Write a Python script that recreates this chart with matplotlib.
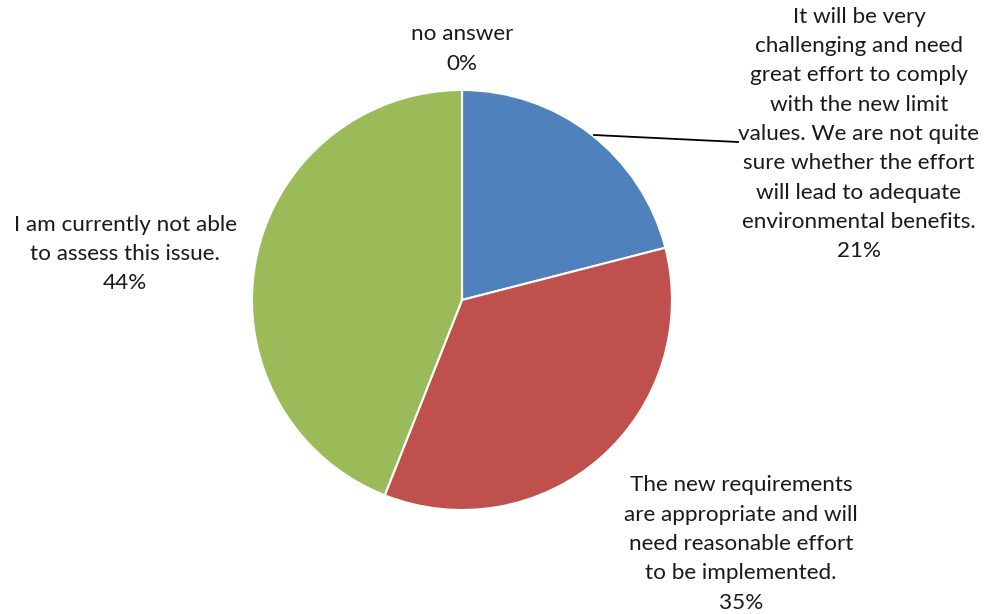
import matplotlib
matplotlib.use('Agg')
import matplotlib.pyplot as plt

# data
labels = ['It will be very\nchallenging and need\ngreat effort to comply\nwith the new limit\nvalues. We are not quite\nsure whether the effort\nwill lead to adequate\nenvironmental benefits.',
          'The new requirements\nare appropriate and will\nneed reasonable effort\nto be implemented.',
          'I am currently not able\nto assess this issue.',
          'no answer']
shares = [21, 35, 44, 0]
colors = ['#4F81BD', '#C0504D', '#9BBB59', '#8064A2']

# label centres in pixel coords (x, y from top)
label_pos = [(859, 134), (741, 544), (125, 254), (462, 49)]

plt.rcParams['font.family'] = ['Lato', 'DejaVu Sans']

fig = plt.figure(figsize=(9.84, 6.14), dpi=100)
ax = fig.add_axes([0, 0, 1, 1])

ax.pie(shares, colors=colors, startangle=90, counterclock=False,
       center=(462, 614 - 300), radius=210,
       wedgeprops=dict(edgecolor='white', linewidth=1.5), frame=True)
ax.set_xlim(0, 984)
ax.set_ylim(0, 614)
ax.axis('off')

for lab, val, (x, y) in zip(labels, shares, label_pos):
    ax.text(x, 614 - y, f"{lab}\n{val}%", ha='center', va='center',
            fontsize=16.2, color='#1a1a1a', linespacing=1.58)

# leader line for the blue slice
ax.plot([594, 738], [614 - 135, 614 - 142], color='black', lw=1.3)

fig.savefig('out.png', dpi=100)
